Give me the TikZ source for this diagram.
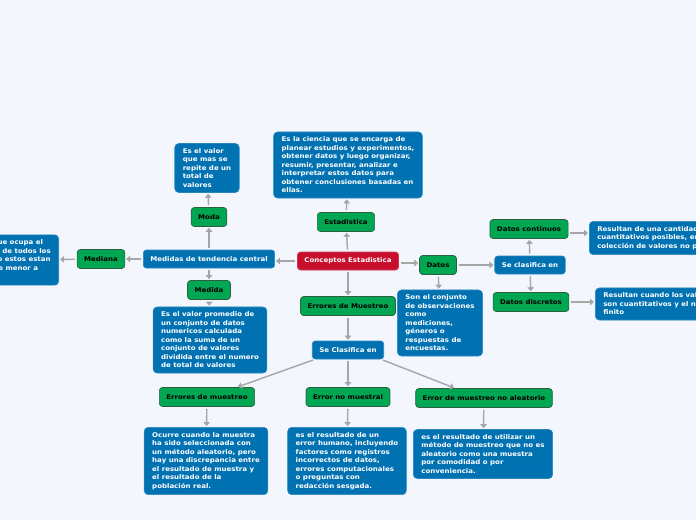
\documentclass[tikz,border=0pt]{standalone}
\usepackage{fontspec}
\setmainfont{DejaVu Sans}[FakeStretch=1.08]
\usetikzlibrary{arrows.meta}
\definecolor{bg}{RGB}{244,246,254}
\definecolor{bluebox}{RGB}{0,114,178}
\definecolor{greenbox}{RGB}{0,166,81}
\definecolor{greenline}{RGB}{45,95,65}
\definecolor{redbox}{RGB}{200,16,46}
\definecolor{conncol}{RGB}{166,166,166}
\begin{document}
\begin{tikzpicture}[x=1pt,y=-1pt,
  font=\fontsize{6.5}{8.5}\selectfont\bfseries,
  base/.style={rounded corners=3pt, inner xsep=7pt, align=left},
  gbox/.style={base, fill=greenbox, draw=greenline, line width=0.6pt, text=black, minimum height=19pt, inner ysep=0pt},
  bbox/.style={base, fill=bluebox, draw=bluebox!85!white, line width=0.6pt, text=white, minimum height=18pt, inner ysep=0pt},
  rbox/.style={bbox, fill=redbox, draw=redbox!85!white},
  dbox/.style={base, fill=bluebox, draw=bluebox!85!white, line width=0.6pt, text=white, inner xsep=8pt, inner ysep=5pt, rounded corners=4pt},
  conn/.style={draw=conncol, line width=1.4pt, -{Triangle[length=4pt,width=6.5pt]}, shorten <=2pt, shorten >=1pt}
]
\fill[bg] (0,0) rectangle (696,520);
\useasboundingbox (0,0) rectangle (696,520);
\clip (0,0) rectangle (696,520);

\node[rbox] (ce) at (348,261) {Conceptos Estadistica};

\node[gbox] (est) at (346,222) {Estadistica};
\node[dbox] (estdef) at (348,165) {Es la ciencia que se encarga de\\planear estudios y experimentos,\\obtener datos y luego organizar,\\resumir, presentar, analizar e\\interpretar estos datos para\\obtener conclusiones basadas en\\ellas.};

\node[bbox] (med) at (209,259) {Medidas de tendencia central};
\node[gbox] (moda) at (209,217) {Moda};
\node[dbox] (modadef) at (207,168) {Es el valor\\que mas se\\repite de un\\total de\\valores};
\node[gbox] (mediana) at (101,259) {Mediana};
\node[dbox, anchor=east] (medianadef) at (59,260) {Es el valor que ocupa el\\lugar central de todos los\\datos cuando estos estan\\ordenados de menor a\\mayor.};
\node[gbox] (medida) at (209,290) {Medida};
\node[dbox] (medidadef) at (210,340) {Es el valor promedio de\\un conjunto de datos\\numericos calculada\\como la suma de un\\conjunto de valores\\dividida entre el numero\\de total de valores};

\node[gbox] (em) at (348,306) {Errores de Muestreo};
\node[bbox] (sc) at (348,350) {Se Clasifica en};
\node[gbox] (em2) at (207,397) {Errores de muestreo};
\node[dbox] (em2def) at (206,461) {Ocurre cuando la muestra\\ha sido seleccionada con\\un método aleatorio, pero\\hay una discrepancia entre\\el resultado de muestra y\\el resultado de la\\población real.};
\node[gbox] (enm) at (348,397) {Error no muestral};
\node[dbox] (enmdef) at (347,461) {es el resultado de un\\error humano, incluyendo\\factores como registros\\incorrectos de datos,\\errores computacionales\\o preguntas con\\redacción sesgada.};
\node[gbox] (emna) at (484,398) {Error de muestreo no aleatorio};
\node[dbox] (emnadef) at (483,454) {es el resultado de utilizar un\\método de muestreo que no es\\aleatorio como una muestra\\por comodidad o por\\conveniencia.};

\node[gbox] (datos) at (438,265) {Datos};
\node[dbox] (datosdef) at (440,323) {Son el conjunto\\de observaciones\\como\\mediciones,\\géneros o\\respuestas de\\encuestas.};
\node[bbox] (scr) at (530,265) {Se clasifica en};
\node[gbox] (dc) at (529,229) {Datos continuos};
\node[dbox, anchor=west] (dcdef) at (589,238) {Resultan de una cantidad infinita de valores\\cuantitativos posibles, en una\\colección de valores no puede ser contada.};
\node[gbox] (dd) at (531,302) {Datos discretos};
\node[dbox, anchor=west] (dddef) at (595,304) {Resultan cuando los valores posibles\\son cuantitativos y el numero es\\finito};

% connectors
\draw[conn] (ce) -- (est);
\draw[conn] (est) -- (estdef);
\draw[conn] (ce.west) -- (ce.west -| med.east);
\draw[conn] (med) -- (moda);
\draw[conn] (moda) -- (modadef);
\draw[conn] (med) -- (mediana);
\draw[conn] (mediana) -- (medianadef);
\draw[conn] (med) -- (medida);
\draw[conn] (medida) -- (medidadef);
\draw[conn] (ce) -- (em);
\draw[conn] (em) -- (sc);
\draw[conn] ([xshift=3pt]sc.south west) -- ([xshift=30pt]em2.north);
\draw[conn] (sc) -- (enm);
\draw[conn] ([xshift=-3pt]sc.south east) -- ([xshift=-29pt]emna.north);
\draw[conn] (em2) -- (em2def);
\draw[conn] (enm) -- (enmdef);
\draw[conn] (emna) -- (emnadef);
\draw[conn] ([yshift=-2pt]ce.east) -- ([yshift=-2pt]ce.east -| datos.west);
\draw[conn] (datos) -- (datosdef);
\draw[conn] (datos) -- (scr);
\draw[conn] (scr) -- (dc);
\draw[conn] (scr) -- (dd);
\draw[conn] ([yshift=-4pt]dc.east) -- ([yshift=-4pt]dc.east -| dcdef.west);
\draw[conn] (dd.east) -- (dd.east -| dddef.west);
\end{tikzpicture}
\end{document}
